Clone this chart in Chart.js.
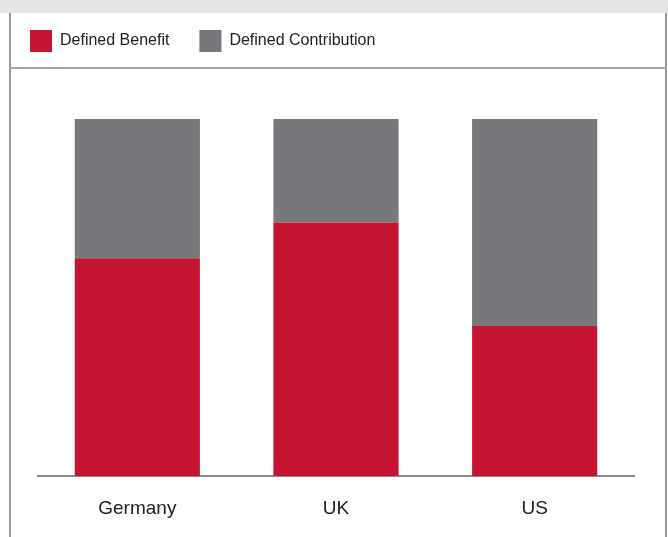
<!DOCTYPE html>
<html>
<head>
<meta charset="utf-8">
<script src="https://cdn.jsdelivr.net/npm/chart.js@4.4.1/dist/chart.umd.min.js"></script>
<style>
  body { margin: 0; background: #fff; }
  #wrap { position: relative; width: 668px; height: 537px; overflow: hidden; }
  #band { position: absolute; left: 0; top: 0; width: 668px; height: 13px; background: #e3e4e5; }
  #frame { position: absolute; left: 9px; top: 13px; width: 654px; height: 530px;
           border-left: 2px solid #9a9a9a; border-right: 2px solid #9a9a9a; }
  #rule { position: absolute; left: 10px; top: 67px; width: 656px; height: 2px; background: #a5a5a5; }
  #chart-box { position: absolute; left: 0; top: 0; width: 668px; height: 537px; }
</style>
</head>
<body>
<div id="wrap">
  <div id="band"></div>
  <div id="frame"></div>
  <div id="rule"></div>
  <div id="chart-box"><canvas id="pension-chart"></canvas></div>
</div>
<script>
// Share of pension assets by plan type (%)
const countries = ['Germany', 'UK', 'US'];
const definedBenefit = [61, 71, 42];
const definedContribution = [39, 29, 58];

const RED = '#c51431';
const GREY = '#77787b';
const FONT = '"Liberation Sans", Arial, sans-serif';

// Push the plot area down below the legend
const legendSpacing = {
    id: 'legendSpacing',
    beforeInit(chart) {
        const fit = chart.legend.fit;
        chart.legend.fit = function () {
            fit.bind(chart.legend)();
            this.height += 57;
        };
    }
};

const ctx = document.getElementById('pension-chart').getContext('2d');

new Chart(ctx, {
    type: 'bar',
    data: {
        labels: countries,
        datasets: [{
            label: 'Defined Benefit',
            data: definedBenefit,
            backgroundColor: RED,
            borderWidth: 0,
        }, {
            label: 'Defined Contribution',
            data: definedContribution,
            backgroundColor: GREY,
            borderWidth: 0,
        }]
    },
    options: {
        responsive: true,
        maintainAspectRatio: false,
        animation: false,
        categoryPercentage: 1,
        barPercentage: 0.63,
        layout: {
            padding: { top: 0, right: 34, bottom: 0, left: 0 }
        },
        scales: {
            x: {
                stacked: true,
                grid: { display: false, drawTicks: false },
                border: { display: true, color: '#8a8a8a', width: 2 },
                ticks: {
                    color: '#222',
                    padding: 21,
                    font: { family: FONT, size: 19 }
                },
                afterFit(scale) {
                    scale.height = 61;
                }
            },
            y: {
                stacked: true,
                min: 0,
                max: 100,
                grid: { display: false, drawTicks: false },
                border: { display: false },
                ticks: { display: false },
                afterFit(scale) {
                    scale.width = 38; // left gutter before the plot starts
                }
            }
        },
        plugins: {
            legend: {
                position: 'top',
                align: 'start',
                labels: {
                    boxWidth: 22,
                    boxHeight: 22,
                    padding: 30,
                    color: '#222',
                    font: { family: FONT, size: 16 }
                }
            },
            tooltip: { enabled: false }
        }
    },
    plugins: [legendSpacing]
});
</script>
</body>
</html>
